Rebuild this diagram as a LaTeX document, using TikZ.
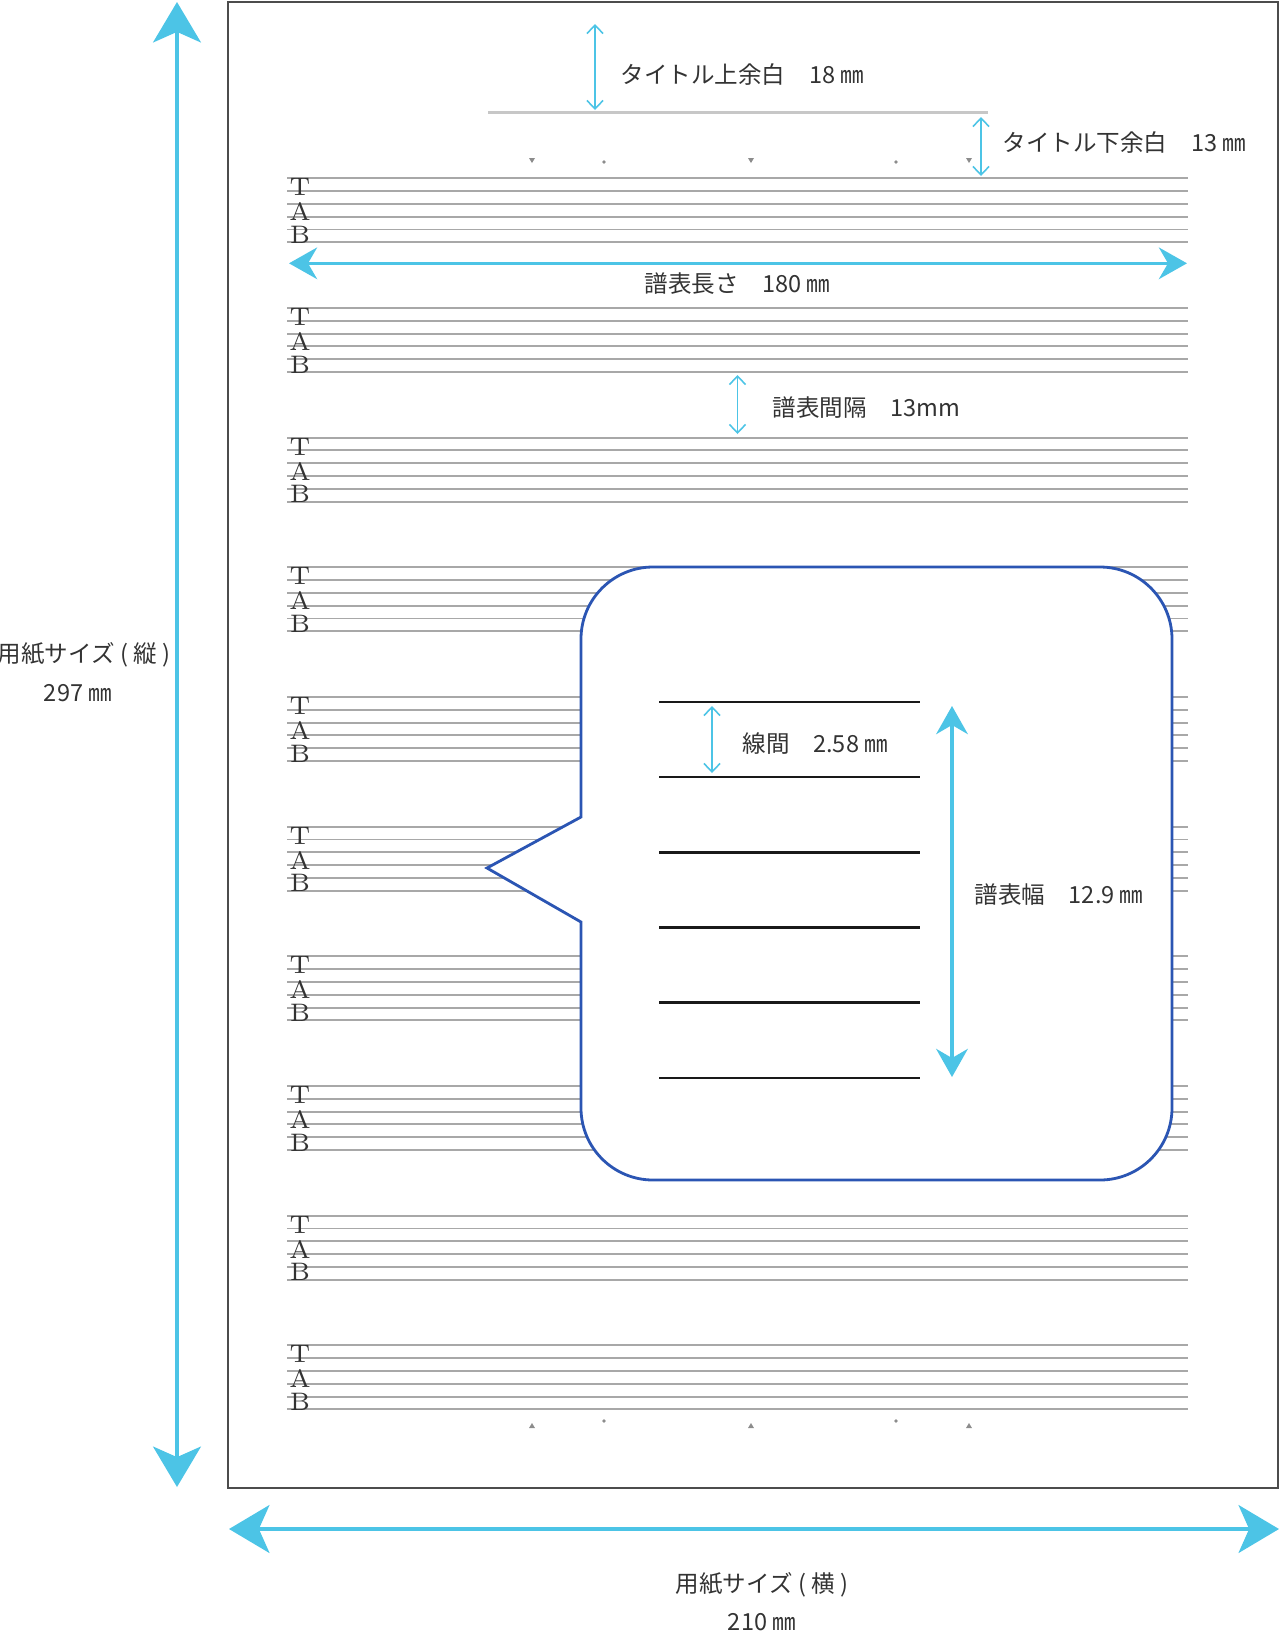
\documentclass[tikz,border=0pt]{standalone}
\usepackage{fontspec}
\newfontfamily\jpfont{Noto Sans CJK JP}
\usetikzlibrary{arrows.meta}
\definecolor{dimcyan}{HTML}{4CC4E6}
\definecolor{calloutblue}{HTML}{2B55B3}
\definecolor{textgray}{HTML}{333333}

\begin{document}
\begin{tikzpicture}[
    staffline/.style={draw=black!34,line width=0.55pt},
    titleline/.style={draw=black!22,line width=0.6pt},
    tabletter/.style={font=\fontsize{7.2}{8}\selectfont,text=black!80,inner sep=0pt},
    dimtext/.style={font=\jpfont\fontsize{6.7}{7}\selectfont,text=textgray,inner sep=0pt},
    dimthin/.style={draw=dimcyan,line width=0.45pt,
        {Straight Barb[length=2.4pt,width=4.6pt]}-{Straight Barb[length=2.4pt,width=4.6pt]}},
    dimmid/.style={draw=dimcyan,fill=dimcyan,line width=0.9pt,
        {Stealth[length=8pt,width=9pt,inset=2.6pt]}-{Stealth[length=8pt,width=9pt,inset=2.6pt]}},
    dimbig/.style={draw=dimcyan,fill=dimcyan,line width=1.15pt,
        {Stealth[length=11.5pt,width=13.6pt,inset=3pt]}-{Stealth[length=11.5pt,width=13.6pt,inset=3pt]}},
    callout/.style={draw=calloutblue,fill=white,line width=0.8pt,line join=miter},
    innerline/.style={draw=black!90,line width=0.7pt},
    beatmark/.style={fill=black!45}
]
\useasboundingbox (0,0) rectangle (12.80,-16.33);

% paper
\node [draw=black!70,line width=0.45pt,anchor=north west,minimum width=10.50cm,
    minimum height=14.86cm,inner sep=0pt] (paper) at (2.27,-0.01) {};

% title line and marks
\coordinate (title west) at (4.88,-1.125);
\coordinate (title east) at (9.88,-1.125);
\draw [titleline] (title west) -- (title east);
\foreach \x in {5.32,7.51,9.69} {
    \fill [beatmark] (\x-0.03,-1.58) -- (\x+0.03,-1.58) -- (\x,-1.63) -- cycle;
    \fill [beatmark] (\x-0.03,-14.28) -- (\x+0.03,-14.28) -- (\x,-14.23) -- cycle;
}
\foreach \x in {6.04,8.96} {
    \fill [beatmark] (\x,-1.62) circle (0.018);
    \fill [beatmark] (\x,-14.21) circle (0.018);
}

% staves
\foreach \k in {0,...,9} {
    \foreach \j in {0,...,5}
        \draw [staffline] (2.87,{-1.783-1.2967*\k-0.128*\j}) -- (11.88,{-1.783-1.2967*\k-0.128*\j});
    \node [tabletter] (T\k) at (3.00,{-1.783-1.2967*\k-0.09}) {T};
    \node [tabletter] (A\k) at (3.00,{-1.783-1.2967*\k-0.335}) {A};
    \node [tabletter] (B\k) at (3.00,{-1.783-1.2967*\k-0.565}) {B};
}

% callout
\draw [callout] (4.87,-8.68) -- (5.81,-8.17) -- (5.81,-6.39)
    arc [start angle=180,end angle=90,radius=0.72] -- (11.00,-5.67)
    arc [start angle=90,end angle=0,radius=0.72] -- (11.72,-11.08)
    arc [start angle=0,end angle=-90,radius=0.72] -- (6.53,-11.80)
    arc [start angle=270,end angle=180,radius=0.72] -- (5.81,-9.22) -- cycle;
\foreach \j in {0,...,5}
    \draw [innerline] (6.59,{-7.02-0.7516*\j}) -- (9.20,{-7.02-0.7516*\j});

% dimension ends
\coordinate (top margin a) at (5.95,-0.24);
\coordinate (top margin b) at (5.95,-1.10);
\coordinate (low margin a) at (9.81,-1.17);
\coordinate (low margin b) at (9.81,-1.76);
\coordinate (length a) at (2.89,-2.633);
\coordinate (length b) at (11.87,-2.633);
\coordinate (gap a) at (7.375,-3.75);
\coordinate (gap b) at (7.375,-4.34);
\coordinate (line gap a) at (7.12,-7.06);
\coordinate (line gap b) at (7.12,-7.73);
\coordinate (width a) at (9.52,-7.06);
\coordinate (width b) at (9.52,-10.77);
\coordinate (height a) at (1.77,-0.02);
\coordinate (height b) at (1.77,-14.87);
\coordinate (paper w a) at (2.29,-15.29);
\coordinate (paper w b) at (12.79,-15.29);

\draw [dimthin] (top margin a) -- (top margin b);
\draw [dimthin] (low margin a) -- (low margin b);
\draw [dimmid] (length a) -- (length b);
\draw [dimthin] (gap a) -- (gap b);
\draw [dimthin] (line gap a) -- (line gap b);
\draw [dimmid] (width a) -- (width b);
\draw [dimbig] (height a) -- (height b);
\draw [dimbig] (paper w a) -- (paper w b);

% labels
\node [dimtext,anchor=west] (top margin) at (6.20,-0.75) {タイトル上余白　18 ㎜};
\node [dimtext,anchor=west] (low margin) at (10.02,-1.43) {タイトル下余白　13 ㎜};
\node [dimtext] (length) at (7.375,-2.84) {譜表長さ　180 ㎜};
\node [dimtext,anchor=west] (gap) at (7.72,-4.08) {譜表間隔　13mm};
\node [dimtext,anchor=west] (line gap) at (7.42,-7.44) {線間　2.58 ㎜};
\node [dimtext,anchor=west] (width) at (9.74,-8.95) {譜表幅　12.9 ㎜};
\node [dimtext] (height) at (0.84,-6.55) {用紙サイズ ( 縦 )};
\node [dimtext] (height val) at (0.78,-6.93) {297 ㎜};
\node [dimtext] (paper w) at (7.62,-15.85) {用紙サイズ ( 横 )};
\node [dimtext] (paper w val) at (7.62,-16.22) {210 ㎜};
\end{tikzpicture}
\end{document}
